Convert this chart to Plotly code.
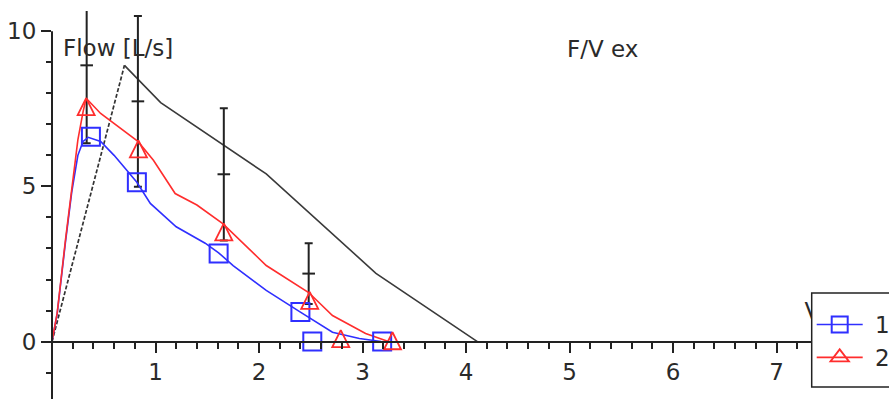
import plotly.graph_objects as go

# Predicted expiratory flow-volume curve (volume in L, flow in L/s)
pred_vol = [0.0, 0.70, 1.05, 2.07, 3.13, 4.11]
pred_flow = [0.0, 8.9, 7.7, 5.4, 2.2, 0.0]

# Predicted values and normal ranges at the reference volumes
ref_vol = [0.335, 0.83, 1.66, 2.48]
ref_flow = [8.90, 7.74, 5.39, 2.19]
ref_range = [2.51, 2.75, 2.13, 0.98]

# Trial 1 curve and its marked points
t1_vol = [0.0, 0.05, 0.13, 0.19, 0.25, 0.30, 0.35, 0.47, 0.60, 0.82, 0.95,
          1.20, 1.48, 1.61, 1.75, 2.07, 2.40, 2.71, 2.97, 3.18]
t1_flow = [0.0, 0.90, 3.20, 4.80, 6.00, 6.45, 6.58, 6.45, 6.00, 5.13, 4.45,
           3.70, 3.17, 2.86, 2.45, 1.65, 0.95, 0.30, 0.10, 0.0]
t1_mark_vol = [0.376, 0.82, 1.61, 2.40, 2.515, 3.19]
t1_mark_flow = [6.60, 5.13, 2.84, 0.95, 0.0, 0.0]

# Trial 2 curve and its marked points
t2_vol = [0.0, 0.05, 0.13, 0.19, 0.25, 0.30, 0.33, 0.47, 0.69, 0.83, 0.98,
          1.14, 1.19, 1.40, 1.65, 2.07, 2.48, 2.71, 3.03, 3.25]
t2_flow = [0.0, 0.92, 3.27, 4.87, 6.50, 7.40, 7.84, 7.35, 6.80, 6.45, 5.84,
           4.99, 4.77, 4.40, 3.80, 2.45, 1.58, 0.84, 0.26, 0.0]
t2_mark_vol = [0.33, 0.835, 1.66, 2.49, 2.79, 3.29]
t2_mark_flow = [7.84, 6.48, 3.81, 1.60, 0.37, 0.30]

x_range = [0.0, 8.087]
y_range = [-1.85, 10.65]

W, H = 889, 399
ML, MT = 52, 11
PW, PH = W - ML, H - MT

BLUE = "#2f2fff"
RED = "#ff2d2d"
DARK = "#222222"
TXT = "#2a2a2a"
FONT = "DejaVu Sans"
FS = 23


def px_x(px):
    return (px - ML) / PW


def px_y(py):
    return (H - py) / PH


fig = go.Figure()

# predicted curve: dashed rise to peak, solid descent
fig.add_trace(go.Scatter(x=pred_vol[:2], y=pred_flow[:2], mode="lines",
                         line=dict(color="#333333", width=1.7, dash="4px,2px"),
                         showlegend=False, hoverinfo="skip"))
fig.add_trace(go.Scatter(x=pred_vol[1:], y=pred_flow[1:], mode="lines",
                         line=dict(color="#3a3a3a", width=1.6),
                         showlegend=False, hoverinfo="skip"))

# predicted values with range bars
fig.add_trace(go.Scatter(
    x=ref_vol, y=ref_flow, mode="markers",
    marker=dict(symbol="line-ew", size=9, color=DARK,
                line=dict(color=DARK, width=2)),
    error_y=dict(type="data", array=ref_range, symmetric=True,
                 color=DARK, thickness=2, width=4),
    showlegend=False, hoverinfo="skip"))

# trial curves
fig.add_trace(go.Scatter(x=t1_vol, y=t1_flow, mode="lines",
                         line=dict(color=BLUE, width=1.6),
                         showlegend=False))
fig.add_trace(go.Scatter(x=t2_vol, y=t2_flow, mode="lines",
                         line=dict(color=RED, width=1.6),
                         showlegend=False))
fig.add_trace(go.Scatter(x=t1_mark_vol, y=t1_mark_flow, mode="markers",
                         marker=dict(symbol="square-open", size=18, color=BLUE,
                                     line=dict(color=BLUE, width=2)),
                         showlegend=False))
fig.add_trace(go.Scatter(x=t2_mark_vol, y=t2_mark_flow, mode="markers",
                         marker=dict(symbol="arrow-up-open", size=17, color=RED,
                                     line=dict(color=RED, width=1.8)),
                         showlegend=False))

# volume axis title, partly covered by the legend box
fig.add_trace(go.Scatter(x=[7.27], y=[0.9], mode="text", text=["Vol"],
                         textposition="middle right",
                         textfont=dict(family=FONT, size=FS, color=TXT),
                         showlegend=False, hoverinfo="skip"))

# legend entries
fig.add_trace(go.Scatter(x=[None], y=[None], mode="lines+markers",
                         name="\u00a01",
                         line=dict(color=BLUE, width=1.6),
                         marker=dict(symbol="square-open", size=18, color=BLUE,
                                     line=dict(color=BLUE, width=2))))
fig.add_trace(go.Scatter(x=[None], y=[None], mode="lines+markers",
                         name="\u00a02",
                         line=dict(color=RED, width=1.6),
                         marker=dict(symbol="triangle-up-open", size=16, color=RED,
                                     line=dict(color=RED, width=1.8))))

zero_pos = (0 - y_range[0]) / (y_range[1] - y_range[0])
ten_pos = (10 - y_range[0]) / (y_range[1] - y_range[0])

fig.update_layout(
    width=W, height=H,
    margin=dict(l=ML, r=0, t=MT, b=0, autoexpand=False),
    paper_bgcolor="white", plot_bgcolor="white",
    font=dict(family=FONT, size=FS, color=TXT),
    xaxis=dict(range=x_range, anchor="free", position=zero_pos,
               showline=True, linecolor=DARK, linewidth=2,
               showgrid=False, zeroline=False,
               tickmode="array", tickvals=[1, 2, 3, 4, 5, 6, 7],
               ticks="outside", ticklen=10, tickwidth=2, tickcolor=DARK,
               tickfont=dict(family=FONT, size=FS, color=TXT),
               minor=dict(tickmode="linear", tick0=0, dtick=0.2,
                          ticks="outside", ticklen=6, tickwidth=1.5,
                          tickcolor=DARK, showgrid=False)),
    yaxis=dict(range=y_range, showline=False, showgrid=False, zeroline=False,
               tickmode="linear", tick0=0, dtick=5,
               ticks="outside", ticklen=10, tickwidth=2, tickcolor=DARK,
               tickfont=dict(family=FONT, size=FS, color=TXT),
               minor=dict(tickmode="linear", tick0=0, dtick=1,
                          ticks="outside", ticklen=5, tickwidth=1.5,
                          tickcolor=DARK, showgrid=False)),
    shapes=[
        # vertical axis line, ending at the top tick
        dict(type="line", xref="paper", yref="paper",
             x0=0, x1=0, y0=0, y1=ten_pos,
             line=dict(color=DARK, width=2)),
        # legend frame
        dict(type="rect", xref="paper", yref="paper", layer="above",
             x0=px_x(811.7), x1=px_x(905), y0=px_y(387), y1=px_y(293),
             fillcolor="white", line=dict(color=DARK, width=1.5)),
    ],
    annotations=[
        dict(text="Flow [L/s]", xref="paper", yref="paper",
             x=px_x(61), y=px_y(48.5),
             xanchor="left", yanchor="middle", showarrow=False,
             font=dict(family=FONT, size=FS, color=TXT)),
        dict(text="F/V ex", xref="paper", yref="paper",
             x=px_x(602.5), y=px_y(49),
             xanchor="center", yanchor="middle", showarrow=False,
             font=dict(family=FONT, size=FS, color=TXT)),
    ],
    legend=dict(x=px_x(811.7), y=px_y(303), xanchor="left", yanchor="top",
                bgcolor="rgba(0,0,0,0)", borderwidth=0,
                font=dict(family=FONT, size=FS, color=TXT),
                itemwidth=46),
    showlegend=True,
)

fig.write_html("out.html")
